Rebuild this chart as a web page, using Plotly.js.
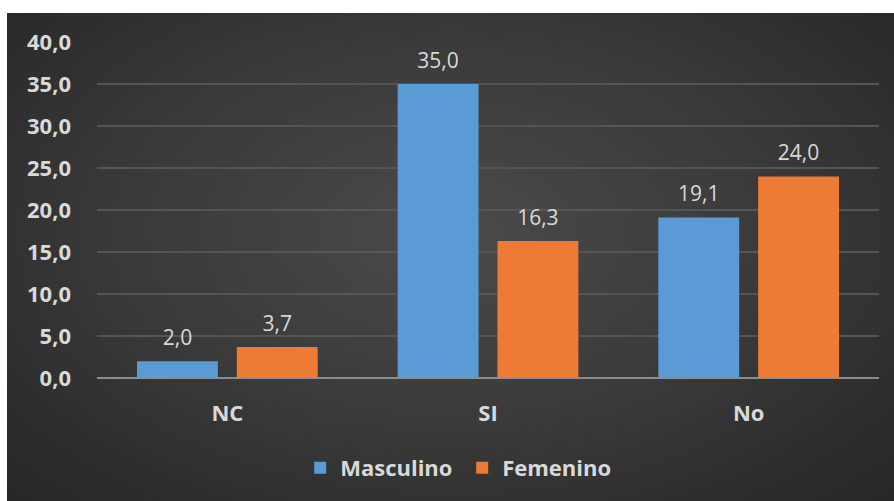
<!DOCTYPE html>
<html>
<head>
<meta charset="utf-8">
<script src="https://cdn.plot.ly/plotly-3.0.1.min.js"></script>
<style>
  html, body { margin: 0; padding: 0; background: #ffffff; }
  #wrap {
    position: absolute; left: 7px; top: 13px; width: 887px; height: 488px;
    background: radial-gradient(ellipse at 50% 45%, #4a4a4a 0%, #3c3c3c 45%, #262626 100%);
  }
  #chart { width: 887px; height: 488px; }
</style>
</head>
<body>
<div id="wrap"><div id="chart"></div></div>
<script>
const categories = ["NC", "SI", "No"];
const masculino = [2.0, 35.0, 19.1];
const femenino = [3.7, 16.3, 24.0];
const seriesNames = ["Masculino", "Femenino"];
const yTicks = [0, 5, 10, 15, 20, 25, 30, 35, 40];

const font = "'Open Sans', 'Liberation Sans', sans-serif";
const txtColor = "#d9d9d9";

function barTrace(name, vals, color) {
  return {
    type: "bar",
    name: name,
    x: categories,
    y: vals,
    offsetgroup: name,
    marker: { color: color, line: { width: 0 } },
    hoverinfo: "skip"
  };
}
function labelTrace(name, vals) {
  return {
    type: "scatter",
    mode: "markers+text",
    name: name + " labels",
    x: categories,
    y: vals,
    offsetgroup: name,
    showlegend: false,
    marker: { size: 16, opacity: 0 },
    text: vals.map(v => v.toFixed(1).replace(".", ",")),
    textposition: "top center",
    cliponaxis: false,
    textfont: { family: font, size: 21, color: txtColor },
    hoverinfo: "skip"
  };
}

const data = [
  barTrace(seriesNames[0], masculino, "#5b9bd5"),
  barTrace(seriesNames[1], femenino, "#ee7b35"),
  labelTrace(seriesNames[0], masculino),
  labelTrace(seriesNames[1], femenino)
];

const layout = {
  width: 887, height: 488,
  margin: { l: 90, r: 15, t: 29, b: 123 },
  paper_bgcolor: "rgba(0,0,0,0)",
  plot_bgcolor: "rgba(0,0,0,0)",
  separators: ",.",
  barmode: "group",
  scattermode: "group",
  bargap: 0.234,
  scattergap: 0.234,
  bargroupgap: 0.19,
  showlegend: true,
  legend: {
    orientation: "h", x: 0.467, xanchor: "center", y: -0.205, yanchor: "top",
    font: { family: font, size: 22, color: txtColor, weight: "bold" },
    itemwidth: 30,
    entrywidth: 117
  },
  xaxis: {
    type: "category",
    showgrid: false, zeroline: false, showline: false,
    ticks: "", ticklabelstandoff: 20,
    tickfont: { family: font, size: 22, color: txtColor, weight: "bold" }
  },
  yaxis: {
    range: [0, 40],
    tickvals: yTicks,
    tickformat: ".1f",
    showgrid: true, gridcolor: "#555555", gridwidth: 1.5,
    zeroline: true, zerolinecolor: "#8c8c8c", zerolinewidth: 2,
    showline: false, ticks: "",
    ticklabelstandoff: 25,
    tickfont: { family: font, size: 22, color: txtColor, weight: "bold" }
  }
};

Plotly.newPlot("chart", data, layout, { staticPlot: true, displayModeBar: false });
</script>
</body>
</html>
